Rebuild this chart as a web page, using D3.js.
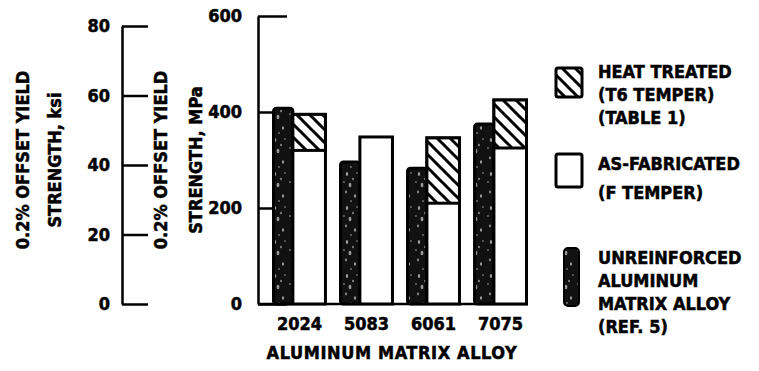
<!DOCTYPE html>
<html><head><meta charset="utf-8">
<script src="https://cdn.jsdelivr.net/npm/d3@7"></script>
<style>
body{margin:0;background:#fff}
text{font-family:"DejaVu Sans Condensed","Liberation Sans Narrow",sans-serif;font-weight:bold;font-size:18px;fill:#000;stroke:#000;stroke-width:0.5px}
</style></head><body>
<svg width="759" height="371"></svg>
<script>
var alloys = ["2024", "5083", "6061", "7075"]
var unreinforced = [408, 296, 283, 375]
var asFabricated = [320, 348, 210, 325]
var heatTreated = [395, null, 346, 425]
var mpaTicks = [0, 200, 400, 600]
var ksiTicks = [0, 20, 40, 60, 80]

var svg = d3.select("svg")
var defs = svg.append("defs")

// hatch for heat treated
var hatch = defs.append("pattern").attr("id", "hatch")
  .attr("patternUnits", "userSpaceOnUse").attr("width", 13).attr("height", 13)
hatch.append("rect").attr("width", 13).attr("height", 13).attr("fill", "#fff")
hatch.append("path").attr("d", "M-1,-1L14,14M-4,9L4,17M9,-4L17,4")
  .attr("stroke", "#000").attr("stroke-width", 3)

// dark speckled fill for unreinforced
var speck = defs.append("pattern").attr("id", "speck")
  .attr("patternUnits", "userSpaceOnUse").attr("width", 18).attr("height", 34)
speck.append("rect").attr("width", 18).attr("height", 34).attr("fill", "#111")
var dots = [[5,4,1.2],[11,9,0.8],[8,15,1.4],[4,22,0.9],[13,26,1.1],[9,31,0.7],[15,3,0.6],[2,12,0.7]]
speck.selectAll("ellipse").data(dots).enter().append("ellipse")
  .attr("cx", d => d[0]).attr("cy", d => d[1]).attr("rx", d => d[2]).attr("ry", d => d[2] * 1.6)
  .attr("fill", "#9a9a9a")

// scales
var y = d3.scaleLinear().domain([0, 600]).range([304, 16])
var yKsi = d3.scaleLinear().domain([0, 80]).range([304, 26])
var x = d3.scaleBand().domain(alloys).range([272, 528]).paddingInner(0.18).paddingOuter(0)
var split = 0.38

// ksi axis
svg.append("g").attr("transform", "translate(122,0)")
  .call(d3.axisLeft(yKsi).tickValues(ksiTicks).tickSizeInner(-26).tickSizeOuter(0).tickPadding(12).tickFormat(d3.format("d")))
  .call(g => g.selectAll("path,line").attr("stroke", "#000").attr("stroke-width", 2.5))
  .call(g => g.selectAll("text").attr("font-size", 18).attr("font-family", null))

// MPa axis
svg.append("g").attr("transform", "translate(258,0)")
  .call(d3.axisLeft(y).tickValues(mpaTicks).tickSizeInner(-29).tickSizeOuter(0).tickPadding(16).tickFormat(d3.format("d")))
  .call(g => g.selectAll("path,line").attr("stroke", "#000").attr("stroke-width", 2.5))
  .call(g => g.selectAll("text").attr("font-size", 18).attr("font-family", null))

// baseline
svg.append("line").attr("x1", 258).attr("x2", x.range()[1]).attr("y1", y(0)).attr("y2", y(0))
  .attr("stroke", "#000").attr("stroke-width", 2.5)

// bars
var groups = svg.selectAll("g.alloy").data(alloys).enter().append("g").attr("class", "alloy")

groups.append("rect")
  .attr("x", d => x(d) + 1.5)
  .attr("width", x.bandwidth() * split - 1.5)
  .attr("y", (d, i) => y(unreinforced[i]))
  .attr("height", (d, i) => y(0) - y(unreinforced[i]))
  .attr("rx", 3)
  .attr("fill", "url(#speck)").attr("stroke", "#000").attr("stroke-width", 3)

groups.append("rect")
  .attr("x", d => x(d) + x.bandwidth() * split)
  .attr("width", x.bandwidth() * (1 - split) - 1.5)
  .attr("y", (d, i) => y(heatTreated[i] || asFabricated[i]))
  .attr("height", (d, i) => y(0) - y(heatTreated[i] || asFabricated[i]))
  .attr("fill", "#fff").attr("stroke", "#000").attr("stroke-width", 3)

groups.filter((d, i) => heatTreated[i] != null).append("rect")
  .attr("x", d => x(d) + x.bandwidth() * split)
  .attr("width", x.bandwidth() * (1 - split) - 1.5)
  .attr("y", d => y(heatTreated[alloys.indexOf(d)]))
  .attr("height", d => y(asFabricated[alloys.indexOf(d)]) - y(heatTreated[alloys.indexOf(d)]))
  .attr("fill", "url(#hatch)").attr("stroke", "#000").attr("stroke-width", 3)

// x tick labels
svg.append("g").attr("transform", "translate(0," + y(0) + ")")
  .call(d3.axisBottom(x).tickSize(0).tickPadding(13))
  .call(g => g.select(".domain").remove())
  .call(g => g.selectAll("text").attr("font-size", 18).attr("font-family", null))

svg.append("text").attr("x", 392).attr("y", 359).attr("text-anchor", "middle")
  .attr("letter-spacing", "0.6px")
  .text("ALUMINUM MATRIX ALLOY")

// y titles
function ytitle(cx, step, lines) {
  var t = svg.append("text").attr("transform", "translate(" + cx + ",160) rotate(-90)")
    .attr("text-anchor", "middle")
  lines.forEach((s, i) => t.append("tspan").attr("x", 0).attr("dy", i ? step : 0).text(s))
}
ytitle(29, 32, ["0.2% OFFSET YIELD", "STRENGTH, ksi"])
ytitle(167, 35, ["0.2% OFFSET YIELD", "STRENGTH, MPa"])

// legend
svg.append("rect").attr("x", 556).attr("y", 68).attr("width", 26).attr("height", 29).attr("rx", 2)
  .attr("fill", "url(#hatch)").attr("stroke", "#000").attr("stroke-width", 3)
svg.append("rect").attr("x", 556).attr("y", 154).attr("width", 26).attr("height", 33).attr("rx", 2)
  .attr("fill", "#fff").attr("stroke", "#000").attr("stroke-width", 3)
svg.append("rect").attr("x", 564).attr("y", 248).attr("width", 15).attr("height", 58).attr("rx", 4)
  .attr("fill", "url(#speck)").attr("stroke", "#000").attr("stroke-width", 2)

function legendText(y0, step, lines) {
  var t = svg.append("text").attr("x", 598).attr("y", y0)
  lines.forEach((s, i) => t.append("tspan").attr("x", 598).attr("dy", i ? step : 0).text(s))
}
legendText(78, 23, ["HEAT TREATED", "(T6 TEMPER)", "(TABLE 1)"])
legendText(170, 29, ["AS-FABRICATED", "(F TEMPER)"])
legendText(264, 23, ["UNREINFORCED", "ALUMINUM", "MATRIX ALLOY", "(REF. 5)"])
</script>
</body></html>
